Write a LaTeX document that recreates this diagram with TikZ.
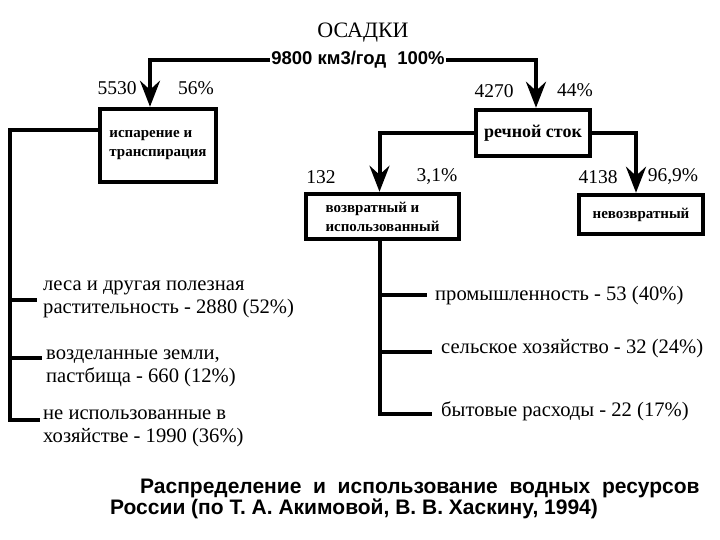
\documentclass[tikz,border=0pt]{standalone}
\usepackage{fontspec}
\setmainfont{Liberation Serif}
\setsansfont{Liberation Sans}
\usetikzlibrary{arrows.meta}
\begin{document}
\begin{tikzpicture}[x=1pt,y=-1pt,
  box/.style={draw, line width=4.5pt, inner sep=0pt},
  conn/.style={line width=4pt},
  arr/.style={conn, -{Stealth[length=26pt,width=20pt,inset=9pt]}},
  lbl/.style={font=\fontsize{20.6}{23}\selectfont, inner sep=0pt, align=left},
  num/.style={font=\fontsize{19.5}{23}\selectfont, inner sep=0pt},
  boxtxt/.style={font=\fontsize{15}{19}\selectfont\bfseries, align=left}
]
\useasboundingbox (0,0) rectangle (720,540);
% title
\node[font=\fontsize{22}{26}\selectfont, inner sep=0pt] (osadki) at (363,33) {ОСАДКИ};
\node[font=\fontsize{18.5}{22}\sffamily\bfseries, inner sep=1pt] (total) at (358,60) {9800 км3/год\hspace{0.6em}100\%};
% boxes
\node[box, minimum width=116pt, minimum height=73pt, boxtxt] (evap) at (158,145.5) {испарение и\\транспирация};
\node[box, minimum width=114pt, minimum height=46pt, font=\fontsize{18}{21}\selectfont\bfseries] (river) at (533,133) {речной сток};
\node[box, minimum width=153pt, minimum height=45pt, boxtxt] (ret) at (382.5,216.5) {возвратный и\\использованный};
\node[box, minimum width=124pt, minimum height=39pt, boxtxt] (nonret) at (641,214.5) {невозвратный};
% numbers
\node[num] (n5530) at (117,88) {5530};
\node[num] (p56) at (196,88) {56\%};
\node[num] (n4270) at (494,91) {4270};
\node[num] (p44) at (575,90) {44\%};
\node[num] (n132) at (321,177) {132};
\node[num] (p31) at (437,177) {3,1\%};
\node[num] (n4138) at (598,177) {4138};
\node[num] (p969) at (673,177) {96,9\%};
% arrows
\draw[arr] (total.west) -| ([xshift=-8pt]evap.north);
\draw[arr] (total.east) -| ([xshift=3pt]river.north);
\draw[arr] (river.west) -| ([xshift=-3pt]ret.north);
\draw[arr] (river.east) -| ([xshift=-5pt]nonret.north);
% left branch texts
\node[lbl, anchor=west] (t1) at (43,299.5) {леса и другая полезная\\растительность - 2880 (52\%)};
\node[lbl, anchor=west] (t2) at (46,368) {возделанные земли,\\пастбища - 660 (12\%)};
\node[lbl, anchor=west] (t3) at (43,428) {не использованные в\\хозяйстве - 1990 (36\%)};
\coordinate (LT) at (10,130.5);
\coordinate (L1) at (10,300);
\coordinate (L1e) at (37,300);
\coordinate (L2) at (10,358);
\coordinate (L2e) at (42,358);
\coordinate (L3e) at (40,420);
\draw[conn] ([yshift=15pt]evap.west) -- (LT) |- (L3e);
\draw[conn] (L1) -- (L1e);
\draw[conn] (L2) -- (L2e);
% right branch texts
\node[lbl, anchor=west] (r1) at (435,296) {промышленность - 53 (40\%)};
\node[lbl, anchor=west] (r2) at (441,349) {сельское хозяйство - 32 (24\%)};
\node[lbl, anchor=west] (r3) at (441,411) {бытовые расходы - 22 (17\%)};
\coordinate (R1) at (380,295);
\coordinate (R1e) at (427,295);
\coordinate (R2) at (380,352);
\coordinate (R2e) at (432,352);
\coordinate (R3e) at (432,414);
\draw[conn] ([xshift=-2.5pt]ret.south) |- (R3e);
\draw[conn] (R1) -- (R1e);
\draw[conn] (R2) -- (R2e);
% caption
\node[anchor=west, inner sep=0pt, align=left, font=\fontsize{21}{21}\sffamily\bfseries] (cap) at (110,498.5)
  {\hspace*{30pt}Распределение\ \ и\ \ использование\ \ водных\ \ ресурсов\\России (по Т. А. Акимовой, В. В. Хаскину, 1994)};
\end{tikzpicture}
\end{document}
